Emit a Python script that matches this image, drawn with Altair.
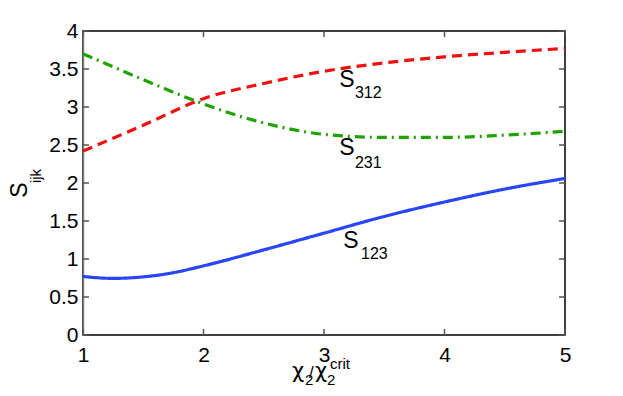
import altair as alt
import pandas as pd

# ---- data ----
x_blue = [1, 1.25, 1.5, 1.75, 2, 2.5, 3, 3.5, 4, 4.5, 5]
s123 = [0.77, 0.745, 0.765, 0.82, 0.91, 1.12, 1.34, 1.56, 1.75, 1.92, 2.06]

x_rg = [1, 1.5, 2, 2.5, 3, 3.5, 4, 4.5, 5]
s312 = [2.42, 2.76, 3.11, 3.31, 3.47, 3.58, 3.66, 3.72, 3.77]
s231 = [3.70, 3.36, 3.04, 2.79, 2.64, 2.60, 2.60, 2.63, 2.68]

series_names = ["S123", "S312", "S231"]
series_colors = ["#2a45f5", "#f01010", "#1fa300"]
series_dash = [[1, 0], [10, 6], [10, 5, 2, 5]]

x_ticks = [1, 2, 3, 4, 5]
y_ticks = [0, 0.5, 1, 1.5, 2, 2.5, 3, 3.5, 4]

# curve annotations: main letter, subscript
ann_main = ["S", "S", "S"]
ann_sub = ["312", "231", "123"]
ann_x = [3.19, 3.19, 3.224]
ann_y = [3.355, 2.454, 1.237]
ann_sub_x = [3.257, 3.257, 3.307]
ann_sub_y = [3.19, 2.263, 1.066]

W, H = 482, 304
FONT = "Liberation Sans"

rows = []
for xv, yv in zip(x_blue, s123):
    rows.append({"x": xv, "y": yv, "s": "S123"})
for xv, yv in zip(x_rg, s312):
    rows.append({"x": xv, "y": yv, "s": "S312"})
for xv, yv in zip(x_rg, s231):
    rows.append({"x": xv, "y": yv, "s": "S231"})
df = pd.DataFrame(rows)

xs = alt.Scale(domain=[1, 5], nice=False)
ys = alt.Scale(domain=[0, 4], nice=False)
xaxis = alt.Axis(values=x_ticks, title=None, ticks=False, grid=False,
                 labelPadding=9, domain=False, format="d",
                 labelOverlap=False, labelFlush=False)
yaxis = alt.Axis(values=y_ticks, title=None, ticks=False, grid=False,
                 labelPadding=5, domainColor="#808080", domainWidth=1.5,
                 labelOverlap=False, labelFlush=False,
                 labelExpr="format(datum.value, '.2~f')")

lines = alt.Chart(df).mark_line(strokeWidth=3.2, interpolate="monotone").encode(
    x=alt.X("x:Q", scale=xs, axis=xaxis),
    y=alt.Y("y:Q", scale=ys, axis=yaxis),
    color=alt.Color("s:N", scale=alt.Scale(domain=series_names, range=series_colors), legend=None),
    strokeDash=alt.StrokeDash("s:N", scale=alt.Scale(domain=series_names, range=series_dash), legend=None),
)

ydf = pd.DataFrame({"yt": y_ticks})
xdf = pd.DataFrame({"xt": x_ticks})
tick_col = "#555555"
lt = alt.Chart(ydf).mark_rule(color=tick_col, strokeWidth=1.5).encode(
    y=alt.Y("yt:Q", scale=ys, axis=yaxis), x=alt.value(0), x2=alt.value(6))
rt = alt.Chart(ydf).mark_rule(color=tick_col, strokeWidth=1.5).encode(
    y=alt.Y("yt:Q", scale=ys, axis=yaxis), x=alt.value(W - 6), x2=alt.value(W))
bt = alt.Chart(xdf).mark_rule(color=tick_col, strokeWidth=1.5).encode(
    x=alt.X("xt:Q", scale=xs, axis=xaxis), y=alt.value(H - 6), y2=alt.value(H))
tt = alt.Chart(xdf).mark_rule(color=tick_col, strokeWidth=1.5).encode(
    x=alt.X("xt:Q", scale=xs, axis=xaxis), y=alt.value(0), y2=alt.value(6))

adf = pd.DataFrame({"m": ann_main, "sub": ann_sub, "x": ann_x, "y": ann_y,
                    "sx": ann_sub_x, "sy": ann_sub_y})
amain = alt.Chart(adf).mark_text(font=FONT, fontSize=23, align="center",
                                 baseline="middle", color="black").encode(
    x=alt.X("x:Q", scale=xs, axis=xaxis), y=alt.Y("y:Q", scale=ys, axis=yaxis), text="m:N")
asub = alt.Chart(adf).mark_text(font=FONT, fontSize=16, align="left",
                                baseline="middle", color="black").encode(
    x=alt.X("sx:Q", scale=xs, axis=xaxis), y=alt.Y("sy:Q", scale=ys, axis=yaxis), text="sub:N")

# axis titles built from pieces (text with sub/superscripts)
title_txt = ["S", "ijk", "χ", "2", "/", "χ", "2", "crit"]
title_px = [-63, -47, 209, 222, 226, 232, 244, 247]
title_py = [159, 145, 347, 354, 347, 347, 354, 338]
title_fs = [23, 15, 21, 15, 17, 21, 15, 15]
title_font = [FONT, FONT, "DejaVu Sans", FONT, FONT, "DejaVu Sans", FONT, FONT]
title_ang = [270, 270, 0, 0, 0, 0, 0, 0]
title_al = ["center", "center", "left", "left", "left", "left", "left", "left"]
title_bl = ["middle", "middle", "alphabetic", "alphabetic", "alphabetic",
            "alphabetic", "alphabetic", "alphabetic"]

tlayers = []
for t, px, py, fs, fnt, ang, al, bl in zip(title_txt, title_px, title_py, title_fs,
                                            title_font, title_ang, title_al, title_bl):
    tlayers.append(
        alt.Chart(pd.DataFrame({"t": [t]})).mark_text(
            font=fnt, fontSize=fs, angle=ang, align=al, baseline=bl, color="black"
        ).encode(x=alt.value(px), y=alt.value(py), text="t:N")
    )

chart = alt.layer(lines, lt, rt, bt, tt, amain, asub, *tlayers).properties(
    width=W, height=H,
    autosize=alt.AutoSizeParams(type="none"),
    padding={"left": 75, "top": 23, "right": 50, "bottom": 53},
).configure_view(stroke="black", strokeWidth=1.5).configure_axis(
    labelFont=FONT, labelFontSize=21, labelColor="black"
)

chart.save("out.html", embed_options={"renderer": "svg", "actions": False})
